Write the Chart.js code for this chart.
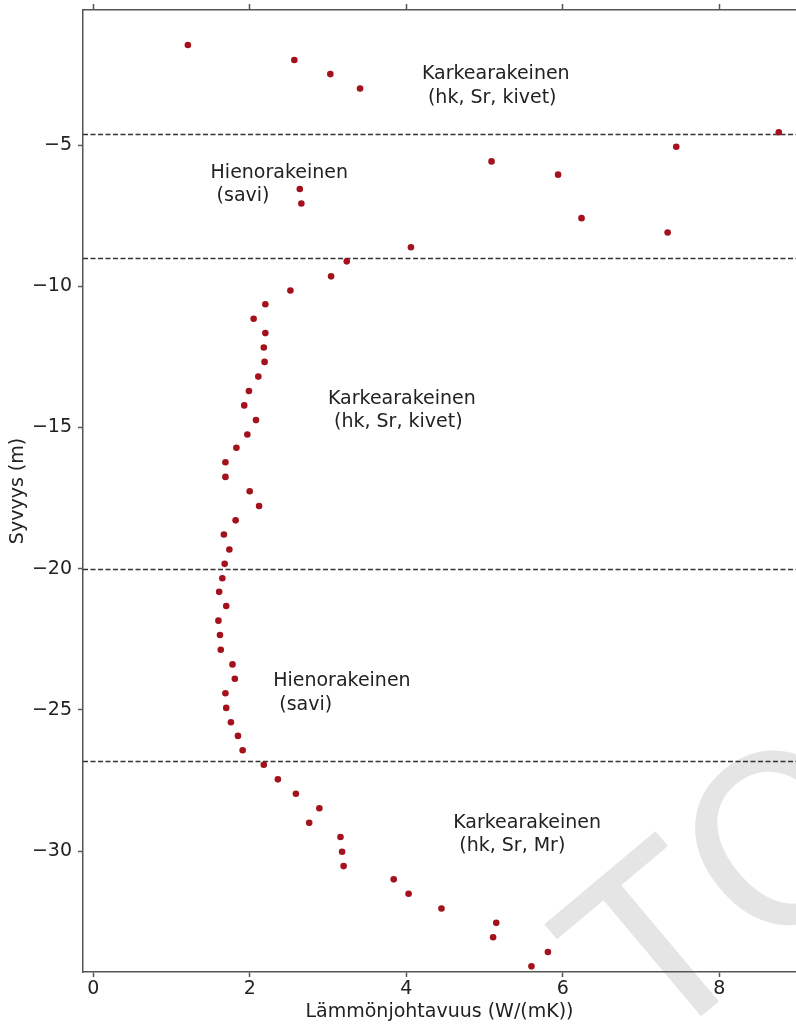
<!DOCTYPE html>
<html>
<head>
<meta charset="utf-8">
<script src="https://cdn.jsdelivr.net/npm/chart.js@4/dist/chart.umd.min.js"></script>
<style>
  html, body { margin: 0; padding: 0; background: #fff; overflow: hidden; }
  #wrap { width: 796px; height: 1030px; position: relative; }
</style>
</head>
<body>
<div id="wrap"><canvas id="myChart"></canvas></div>
<script>
// measured points, top to bottom
const depth = [-1.46, -1.99, -2.49, -3.0, -4.55, -5.06, -5.58, -6.05, -6.56, -7.07,
  -7.59, -8.1, -8.62, -9.12, -9.65, -10.15, -10.64, -11.15, -11.66, -12.17,
  -12.68, -13.2, -13.71, -14.22, -14.74, -15.25, -15.72, -16.23, -16.75, -17.26,
  -17.78, -18.29, -18.79, -19.32, -19.83, -20.34, -20.82, -21.32, -21.84, -22.35,
  -22.87, -23.39, -23.9, -24.41, -24.93, -25.44, -25.92, -26.43, -26.94, -27.46,
  -27.97, -28.48, -29.0, -29.5, -30.02, -30.53, -31.0, -31.51, -32.03, -32.54,
  -33.05, -33.57, -34.08];
const conductivity = [1.21, 2.57, 3.03, 3.41, 8.76, 7.45, 5.09, 5.94, 2.64, 2.66,
  6.24, 7.34, 4.06, 3.24, 3.04, 2.52, 2.20, 2.05, 2.20, 2.18,
  2.19, 2.11, 1.99, 1.93, 2.08, 1.97, 1.83, 1.69, 1.69, 2.00,
  2.12, 1.82, 1.67, 1.74, 1.68, 1.65, 1.61, 1.70, 1.60, 1.62,
  1.63, 1.78, 1.81, 1.69, 1.70, 1.76, 1.85, 1.91, 2.18, 2.36,
  2.59, 2.89, 2.76, 3.16, 3.18, 3.20, 3.84, 4.03, 4.45, 5.15,
  5.11, 5.81, 5.60];

// layer boundaries (dashed lines)
const boundaries = [-4.6, -9, -20, -26.8];

// layer labels: x, y of last line baseline
const layerX = [4.2, 1.5, 3.0, 2.3, 4.6];
const layerY = [-3.5, -7, -15, -25, -30];
const layerText = [
  ['Karkearakeinen', ' (hk, Sr, kivet)'],
  ['Hienorakeinen', ' (savi)'],
  ['Karkearakeinen', ' (hk, Sr, kivet)'],
  ['Hienorakeinen', ' (savi)'],
  ['Karkearakeinen', ' (hk, Sr, Mr)']
];

const xTicks = [0, 2, 4, 6, 8];
const yTicks = [-5, -10, -15, -20, -25, -30];
const xMin = -0.13, xMax = 8.98;
const yMin = -34.28, yMax = -0.22;

const FONT = 'DejaVu Sans';
const fontSize = 19;
const axisColor = '#555';
const textColor = '#222';

const fmt = v => v < 0 ? '\u2212' + Math.abs(v) : String(v);
const setTicks = list => scale => { scale.ticks = list.map(v => ({ value: v })); };

// fixed axis box sizes, no extra label padding
const fixHeight = h => s => {
  s.height = h;
  s.paddingLeft = 0; s.paddingRight = 0; s.paddingTop = 0; s.paddingBottom = 0;
};
const fixWidth = w => s => {
  s.width = w;
  s.paddingLeft = 0; s.paddingRight = 0; s.paddingTop = 0; s.paddingBottom = 0;
};

// background watermark
const watermark = {
  id: 'watermark',
  beforeDraw(chart) {
    const ctx = chart.ctx;
    ctx.save();
    ctx.translate(655, 1055);
    ctx.rotate(-40 * Math.PI / 180);
    ctx.fillStyle = '#e5e5e5';
    ctx.font = '235px "' + FONT + '"';
    ctx.textBaseline = 'alphabetic';
    ctx.textAlign = 'left';
    ctx.fillText('TO', 0, 0);
    ctx.restore();
  }
};

// dashed horizontal lines at the layer boundaries
const layerLines = {
  id: 'layerLines',
  beforeDatasetsDraw(chart) {
    const { ctx, chartArea, scales } = chart;
    ctx.save();
    ctx.strokeStyle = '#333';
    ctx.lineWidth = 1.5;
    ctx.setLineDash([5, 2.5]);
    boundaries.forEach(d => {
      const y = Math.round(scales.y.getPixelForValue(d)) + 0.5;
      ctx.beginPath();
      ctx.moveTo(chartArea.left, y);
      ctx.lineTo(chartArea.right, y);
      ctx.stroke();
    });
    ctx.restore();
  }
};

// text labels for the layers
const layerLabels = {
  id: 'layerLabels',
  afterDatasetsDraw(chart) {
    const { ctx, scales } = chart;
    ctx.save();
    ctx.fillStyle = textColor;
    ctx.font = fontSize + 'px "' + FONT + '"';
    ctx.textAlign = 'left';
    ctx.textBaseline = 'alphabetic';
    layerText.forEach((lines, i) => {
      const px = scales.x.getPixelForValue(layerX[i]);
      const py = scales.y.getPixelForValue(layerY[i]);
      const n = lines.length;
      lines.forEach((t, j) => {
        ctx.fillText(t, px, py - (n - 1 - j) * 23.5);
      });
    });
    ctx.restore();
  }
};

const tickFont = { family: FONT, size: fontSize };

const canvas = document.getElementById('myChart');
const chart = new Chart(canvas.getContext('2d'), {
  type: 'scatter',
  data: {
    datasets: [{
      data: depth.map((d, i) => ({ x: conductivity[i], y: d })),
      backgroundColor: '#a3121c',
      borderWidth: 0,
      pointRadius: 3.3,
      pointHoverRadius: 3.3,
      xAxisID: 'x',
      yAxisID: 'y'
    }]
  },
  options: {
    responsive: true,
    maintainAspectRatio: false,
    animation: false,
    events: [],
    layout: { padding: 0, autoPadding: false },
    plugins: {
      legend: { display: false },
      tooltip: { enabled: false }
    },
    scales: {
      x: {
        type: 'linear',
        position: 'bottom',
        min: xMin,
        max: xMax,
        afterBuildTicks: setTicks(xTicks),
        afterFit: fixHeight(58),
        grid: { drawOnChartArea: false, drawTicks: true, tickLength: 5, tickColor: axisColor, tickWidth: 1.5 },
        border: { display: true, color: axisColor, width: 1.5 },
        ticks: { color: textColor, font: tickFont, padding: 1, maxRotation: 0, callback: fmt },
        title: {
          display: true,
          text: 'Lämmönjohtavuus (W/(mK))',
          color: textColor,
          font: tickFont,
          padding: { top: 0, bottom: 7 }
        }
      },
      x2: {
        type: 'linear',
        position: 'top',
        min: xMin,
        max: xMax,
        afterBuildTicks: setTicks(xTicks),
        afterFit: fixHeight(10),
        grid: { drawOnChartArea: false, drawTicks: true, tickLength: 6, tickColor: axisColor, tickWidth: 1.5 },
        border: { display: true, color: axisColor, width: 1.5 },
        ticks: { display: false }
      },
      y: {
        type: 'linear',
        position: 'left',
        min: yMin,
        max: yMax,
        afterBuildTicks: setTicks(yTicks),
        afterFit: fixWidth(83),
        grid: { drawOnChartArea: false, drawTicks: true, tickLength: 5, tickColor: axisColor, tickWidth: 1.5 },
        border: { display: true, color: axisColor, width: 1.5 },
        ticks: { color: textColor, font: tickFont, padding: 6, callback: fmt },
        title: {
          display: true,
          text: 'Syvyys (m)',
          color: textColor,
          font: tickFont,
          padding: { top: 7, bottom: 0 }
        }
      }
    }
  },
  plugins: [watermark, layerLines, layerLabels]
});
</script>
</body>
</html>
